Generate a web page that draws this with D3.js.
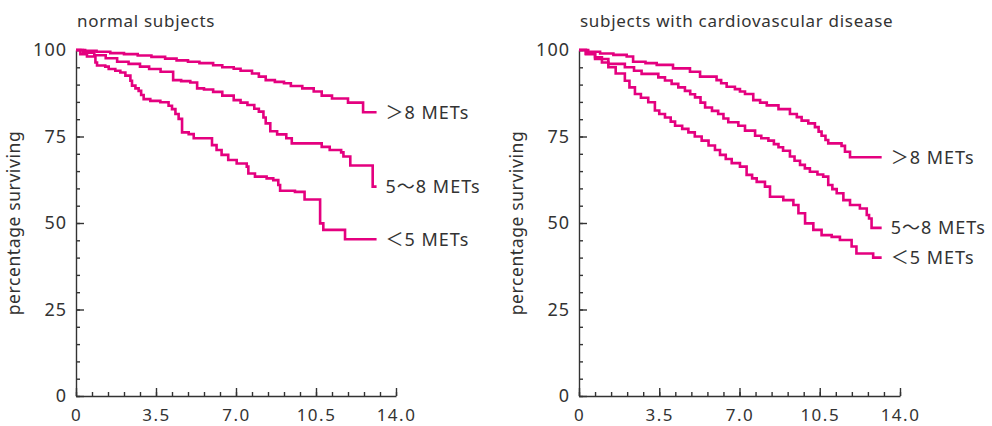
<!DOCTYPE html>
<html>
<head>
<meta charset="utf-8">
<script src="https://cdn.jsdelivr.net/npm/d3@7"></script>
<style>
  body { margin: 0; background: #fff; }
  svg text { font-family: "Noto Sans", "Noto Sans CJK JP", sans-serif; fill: #333; }
</style>
</head>
<body>
<script>
// chart values: [years, percentage surviving]
const panelTitles = ["normal subjects", "subjects with cardiovascular disease"];
const groupLabels = ["＞8 METs", "5～8 METs", "＜5 METs"];
const xTickLabels = ["0", "3.5", "7.0", "10.5", "14.0"];
const xTicks = [0, 3.5, 7, 10.5, 14];
const yTicks = [0, 25, 50, 75, 100];

const normalHigh = [[0,100],[0.4,99.8],[0.9,99.5],[1.5,99.1],[2.1,98.8],[2.7,98.4],[3.3,98.0],[3.9,97.5],[4.4,97.0],[4.9,96.6],[5.4,96.2],[6.0,95.6],[6.4,95.0],[6.9,94.6],[7.2,94.0],[7.7,93.2],[8.0,92.3],[8.3,91.3],[8.7,90.8],[9.1,90.4],[9.4,89.6],[9.9,88.9],[10.4,88.0],[10.75,86.8],[11.2,86.0],[11.9,84.8],[12.56,82.0],[13.15,82.0]];
const normalMid = [[0,100],[0.3,99.2],[0.8,98.5],[1.3,97.6],[1.8,96.6],[2.3,96.0],[2.8,95.2],[3.2,94.5],[3.7,93.7],[4.25,91.3],[4.6,91.0],[5.0,90.6],[5.3,88.9],[5.6,88.6],[6.0,87.9],[6.4,86.8],[6.9,85.5],[7.2,84.8],[7.5,84.1],[7.8,83.0],[8.0,82.2],[8.2,80.5],[8.3,78.8],[8.5,76.5],[8.8,75.6],[9.2,74.5],[9.44,73.0],[10.75,72.0],[11.1,71.1],[11.6,70.4],[11.7,69.2],[12.0,66.6],[12.98,60.5],[13.15,60.5]];
const normalLow = [[0,100],[0.19,98.8],[0.48,98.1],[0.85,96.4],[0.92,95.5],[1.28,95.2],[1.43,94.5],[1.72,94.0],[1.94,93.5],[2.16,92.6],[2.38,91.1],[2.45,89.7],[2.6,88.9],[2.74,88.2],[2.85,87.0],[2.96,85.8],[3.25,85.3],[3.69,84.9],[4.05,83.9],[4.2,82.9],[4.35,81.5],[4.49,80.1],[4.64,76.2],[4.93,75.7],[5.15,74.5],[5.95,72.5],[6.15,71.1],[6.37,69.7],[6.66,68.2],[7.03,67.2],[7.47,66.3],[7.54,64.3],[7.83,63.4],[8.34,62.9],[8.63,62.4],[8.85,61.0],[8.93,59.3],[9.58,59.0],[10.0,56.8],[10.68,49.9],[10.82,48.0],[11.77,45.3],[13.15,45.3]];

const cvdHigh = [[0,100],[0.4,99.5],[0.92,99.0],[1.5,98.6],[2.08,98.1],[2.36,96.6],[2.9,96.2],[3.39,95.7],[4.1,94.7],[4.84,93.7],[5.28,92.3],[6.0,91.3],[6.2,90.4],[6.44,89.4],[6.8,88.7],[7.02,88.0],[7.24,87.3],[7.6,85.5],[7.9,84.8],[8.19,84.0],[8.7,82.9],[9.2,81.5],[9.5,80.6],[9.71,79.6],[10.0,78.8],[10.29,77.7],[10.45,76.4],[10.58,75.2],[10.75,74.0],[10.87,73.0],[11.45,72.3],[11.6,70.6],[11.82,69.0],[13.2,69.0]];
const cvdMid = [[0,100],[0.3,98.8],[0.7,97.4],[1.28,96.0],[2.0,95.0],[2.4,94.0],[2.73,93.1],[3.46,92.1],[3.75,91.2],[4.04,90.2],[4.33,89.2],[4.62,88.2],[4.85,87.2],[5.06,86.3],[5.3,84.8],[5.5,83.4],[5.8,82.4],[6.07,81.5],[6.3,80.2],[6.51,79.1],[6.95,78.1],[7.24,76.7],[7.68,75.2],[7.95,74.5],[8.26,73.8],[8.5,72.8],[8.7,71.9],[8.9,70.9],[9.2,69.2],[9.4,68.0],[9.64,66.8],[9.85,65.8],[10.07,64.8],[10.4,64.0],[10.65,63.4],[10.87,61.0],[11.05,59.8],[11.24,58.6],[11.53,56.6],[11.82,55.2],[12.25,54.2],[12.55,52.3],[12.65,51.3],[12.76,48.6],[13.2,48.6]];
const cvdLow = [[0,100],[0.3,98.9],[0.7,97.9],[1.0,96.4],[1.28,95.0],[1.6,93.2],[2.0,91.1],[2.2,89.2],[2.44,87.3],[2.7,86.2],[3.02,84.9],[3.31,82.5],[3.5,81.5],[3.75,80.5],[4.0,79.3],[4.19,78.1],[4.5,77.2],[4.77,76.2],[5.05,75.0],[5.35,73.8],[5.65,72.4],[5.93,71.1],[6.15,69.7],[6.4,68.5],[6.66,67.3],[7.02,66.3],[7.31,63.9],[7.55,62.9],[7.75,61.9],[8.11,60.5],[8.33,57.6],[8.91,56.6],[9.35,55.2],[9.57,52.8],[9.86,49.9],[10.22,48.0],[10.58,46.5],[11.02,46.0],[11.38,45.1],[11.89,43.2],[12.1,41.2],[12.83,40.0],[13.2,40.0]];

const width = 992;
const height = 426;
const plotTop = 50, plotBottom = 396;
const lineColor = "#e4007f";
const axisColor = "#333";

var svg = d3.select("body").append("svg")
    .attr("width", width)
    .attr("height", height);

function drawPanel(left, right, title, series) {
    var x = d3.scaleLinear().domain([0, 14]).range([left, right]);
    var y = d3.scaleLinear().domain([0, 100]).range([plotBottom, plotTop]);

    // title
    svg.append("text")
        .attr("x", left + 1)
        .attr("y", 27)
        .style("font-size", "17px")
        .style("letter-spacing", "0.7px")
        .text(title);

    // y label, rotated
    svg.append("text")
        .attr("transform", "translate(" + (left - 56.5) + "," + ((plotTop + plotBottom) / 2) + ") rotate(-90)")
        .style("text-anchor", "middle")
        .style("font-size", "17.5px")
        .style("letter-spacing", "0.6px")
        .text("percentage surviving");

    // minor ticks then major ticks with labels, both pointing inward
    svg.append("g")
        .attr("transform", "translate(" + left + ",0)")
        .call(d3.axisLeft(y).tickValues(d3.range(0, 101, 5)).tickSize(-4).tickFormat(""))
        .call(g => g.select(".domain").remove());
    svg.append("g")
        .attr("transform", "translate(" + left + ",0)")
        .call(d3.axisLeft(y).tickValues(yTicks).tickSize(-8).tickPadding(9).tickSizeOuter(0))
        .call(g => g.selectAll("text").style("font-size", "18px").style("letter-spacing", "1px").style("font-family", null));

    svg.append("g")
        .attr("transform", "translate(0," + plotBottom + ")")
        .call(d3.axisBottom(x).tickValues(d3.range(0, 14.01, 0.7)).tickSize(-4).tickFormat(""))
        .call(g => g.select(".domain").remove());
    svg.append("g")
        .attr("transform", "translate(0," + plotBottom + ")")
        .call(d3.axisBottom(x).tickValues(xTicks).tickSize(-8).tickPadding(12.5).tickSizeOuter(0)
            .tickFormat((d, i) => xTickLabels[i]))
        .call(g => g.selectAll("text").style("font-size", "17px").style("letter-spacing", "1.5px").style("font-family", null));

    svg.selectAll(".domain, .tick line")
        .attr("stroke", axisColor)
        .attr("stroke-width", 1.4);

    var line = d3.line()
        .x(d => x(d[0]))
        .y(d => y(d[1]))
        .curve(d3.curveStepAfter);

    series.forEach((s, i) => {
        svg.append("path")
            .datum(s)
            .attr("d", line)
            .attr("fill", "none")
            .attr("stroke", lineColor)
            .attr("stroke-width", 2.6);

        var last = s[s.length - 1];
        svg.append("text")
            .attr("x", x(last[0]) + 9)
            .attr("y", y(last[1]) + 6.5)
            .style("font-size", "18px")
            .style("letter-spacing", "1px")
            .text(groupLabels[i]);
    });
}

drawPanel(76, 396, panelTitles[0], [normalHigh, normalMid, normalLow]);
drawPanel(579, 900, panelTitles[1], [cvdHigh, cvdMid, cvdLow]);
</script>
</body>
</html>
